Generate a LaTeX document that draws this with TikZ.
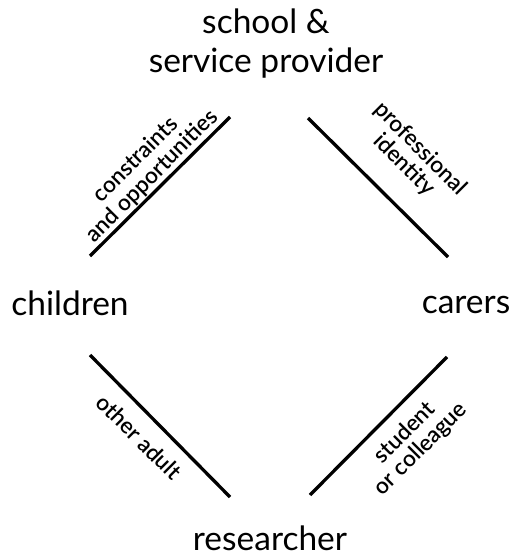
\documentclass[tikz,border=0pt]{standalone}
\usepackage{fontspec}
\setmainfont{Lato}
\newfontfamily\labelfont{Lato Semibold}
\begin{document}
\begin{tikzpicture}[x=1pt,y=-1pt,
  role/.style={font=\fontsize{33.5}{38}\selectfont, inner sep=0pt, anchor=base},
  edgelabel/.style={font=\labelfont\fontsize{22.5}{23}\selectfont, align=center, inner sep=0pt},
  bar/.style={line width=3.3pt}]
\useasboundingbox (0,0) rectangle (515,556);
\node[role] (school) at (266,34) {school \&};
\node[role] (service) at (266,73) {service provider};
\node[role] (children) at (70,315) {children};
\node[role] (carers) at (466,313) {carers};
\node[role] (researcher) at (270,550) {researcher};
\coordinate (a1) at (90,256); \coordinate (a2) at (230,117);
\coordinate (b1) at (308,118); \coordinate (b2) at (448,257);
\coordinate (c1) at (90,355); \coordinate (c2) at (230,497);
\coordinate (d1) at (447,357); \coordinate (d2) at (310,495);
\draw[bar] (a1) -- (a2);
\draw[bar] (b1) -- (b2);
\draw[bar] (c1) -- (c2);
\draw[bar] (d1) -- (d2);
\node[edgelabel, rotate=45] (l1) at (144,168) {constraints\\and opportunities};
\node[edgelabel, rotate=-45] (l2) at (412,157) {professional\\identity};
\node[edgelabel, rotate=-45] (l3) at (139,437) {other adult};
\node[edgelabel, rotate=45] (l4) at (413,441) {student\\or colleague};
\end{tikzpicture}
\end{document}
